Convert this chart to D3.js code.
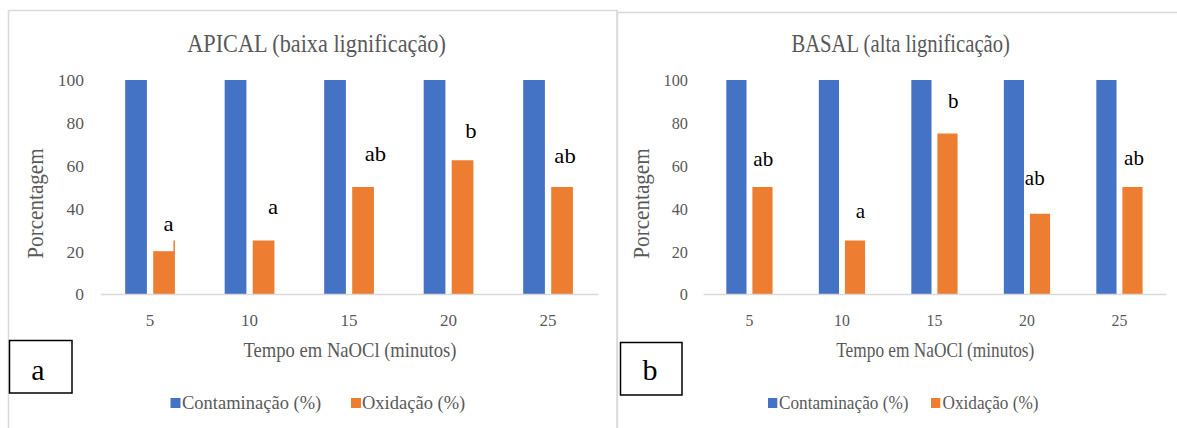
<!DOCTYPE html>
<html>
<head>
<meta charset="utf-8">
<script src="https://cdn.jsdelivr.net/npm/d3@7/dist/d3.min.js"></script>
<style>
  html, body { margin: 0; padding: 0; background: #ffffff; }
  svg { display: block; }
</style>
</head>
<body>
<svg id="chart" width="1177" height="428"></svg>
<script>
// ---------------- data ----------------
const categories = ["5", "10", "15", "20", "25"];
const seriesNames = ["Contaminação (%)", "Oxidação (%)"];
const yTicks = [0, 20, 40, 60, 80, 100];

const contaminacaoApical = [100, 100, 100, 100, 100];
const oxidacaoApical = [20, 25, 50, 62.5, 50];
const letrasApical = ["a", "a", "ab", "b", "ab"];

const contaminacaoBasal = [100, 100, 100, 100, 100];
const oxidacaoBasal = [50, 25, 75, 37.5, 50];
const letrasBasal = ["ab", "a", "b", "ab", "ab"];

// small stray edge visible at the first APICAL oxidation bar (reaches 25 %)
const apicalStrayEdge = 25;

const titles = ["APICAL (baixa lignificação)", "BASAL (alta lignificação)"];
const yTitle = "Porcentagem";
const xTitle = "Tempo em NaOCl (minutos)";
const panelTags = ["a", "b"];

// ---------------- layout / style ----------------
const FONT = '"Liberation Serif", "Times New Roman", serif';
const COLORS = ["#4472C4", "#ED7D31"];
const GRAY_TEXT = "#595959";
const GRID = "#D9D9D9";

const panels = [
  {
    title: titles[0], contam: contaminacaoApical, oxid: oxidacaoApical, letters: letrasApical, tag: panelTags[0],
    k: 1,
    frame: { x: 8.5, y: 10.5, w: 608.5, h: 440 },
    xRange: [100.3, 597.8],
    yAxisX: 84,
    titleX: 316.5,
    yTitleX: 35,
    xTitleX: 350,
    legend: [{ sq: 170.5, tx: 182 }, { sq: 351, tx: 362 }],
    box: { x: 9.5, y: 340.5, w: 62.5, h: 52.5, cx: 38 },
    letterDx: [4.4, 9.4, 12.4, 8.4, 3],
    letterLevel: [29.6, 37.2, 62.3, 73, 61.3],
    stray: true
  },
  {
    title: titles[1], contam: contaminacaoBasal, oxid: oxidacaoBasal, letters: letrasBasal, tag: panelTags[1],
    k: 0.93,
    frame: { x: 617.5, y: 12.5, w: 600, h: 440 },
    xRange: [703.2, 1165.7],
    yAxisX: 688,
    titleX: 900.7,
    yTitleX: 641,
    xTitleX: 935.3,
    legend: [{ sq: 768, tx: 779 }, { sq: 931, tx: 942.5 }],
    box: { x: 620.5, y: 342.5, w: 61.5, h: 52.5, cx: 650 },
    letterDx: [0.8, 5.4, 5.8, -5.2, 1.5],
    letterLevel: [59.8, 35.4, 86.8, 50.9, 60.3],
    stray: false
  }
];

const Y_TOP = 80, Y_BOTTOM = 294;

const svg = d3.select("#chart");

function addText(g, o) {
  const t = g.append("text")
    .attr("transform", `translate(${o.x},${o.y})` + (o.rotate ? ` rotate(${o.rotate})` : "") + ` scale(${o.sx || 1},1)`)
    .attr("text-anchor", o.anchor || "middle")
    .attr("font-size", o.fs)
    .attr("fill", o.fill || GRAY_TEXT)
    .style("font-family", FONT)
    .text(o.text);
  if (o.dy) t.attr("dy", o.dy);
  return t;
}

panels.forEach(p => {
  const g = svg.append("g");

  // frame
  g.append("rect")
    .attr("x", p.frame.x).attr("y", p.frame.y)
    .attr("width", p.frame.w).attr("height", p.frame.h)
    .attr("fill", "none").attr("stroke", GRID).attr("stroke-width", 1.5);

  const x = d3.scaleBand().domain(categories).range(p.xRange).paddingInner(0.5).paddingOuter(0.25);
  const xInner = d3.scaleBand().domain([0, 1]).range([0, x.bandwidth()]).paddingInner(0.225).paddingOuter(0);
  const y = d3.scaleLinear().domain([0, 100]).range([Y_BOTTOM, Y_TOP]);

  // title
  addText(g, { x: p.titleX, y: 52, text: p.title, fs: 25, sx: 0.89 * p.k });

  // y axis
  const yAxis = g.append("g")
    .attr("transform", `translate(${p.yAxisX},0)`)
    .call(d3.axisLeft(y).tickValues(yTicks).tickSize(0).tickPadding(0).tickFormat(d3.format("d")));
  yAxis.select(".domain").remove();
  yAxis.selectAll("text")
    .attr("font-size", 17.5)
    .attr("fill", GRAY_TEXT)
    .style("font-family", FONT)
    .attr("dy", "0.34em")
    .attr("transform", `scale(${p.k},1)`);

  // bars
  const data = categories.map((c, i) => ({ c, vals: [p.contam[i], p.oxid[i]], letter: p.letters[i], i }));
  const groups = g.append("g").selectAll("g").data(data).join("g")
    .attr("transform", d => `translate(${x(d.c)},0)`);
  groups.selectAll("rect").data(d => d.vals.map((v, s) => ({ v, s }))).join("rect")
    .attr("x", d => xInner(d.s))
    .attr("width", xInner.bandwidth())
    .attr("y", d => y(d.v))
    .attr("height", d => y(0) - y(d.v))
    .attr("fill", d => COLORS[d.s]);

  if (p.stray) {
    g.append("rect")
      .attr("x", x(categories[0]) + xInner(1) + xInner.bandwidth() - 1.5)
      .attr("width", 1.5)
      .attr("y", y(apicalStrayEdge))
      .attr("height", y(p.oxid[0]) - y(apicalStrayEdge))
      .attr("fill", COLORS[1]);
  }

  // x axis
  const xAxis = g.append("g")
    .attr("transform", `translate(0,${Y_BOTTOM})`)
    .call(d3.axisBottom(x).tickSize(0).tickSizeOuter(0).tickPadding(20));
  xAxis.select(".domain").attr("stroke", GRID).attr("stroke-width", 1.5);
  xAxis.selectAll("text")
    .attr("font-size", 17)
    .attr("fill", GRAY_TEXT)
    .style("font-family", FONT)
    .attr("transform", `scale(${p.k},1)`);

  // letters
  g.append("g").selectAll("text").data(data).join("text")
    .attr("transform", d => `translate(${x(d.c) + xInner(1) + xInner.bandwidth() / 2 + p.letterDx[d.i]},${y(p.letterLevel[d.i])}) scale(${1.08 * p.k},1)`)
    .attr("text-anchor", "middle")
    .attr("font-size", 21)
    .attr("fill", "#000")
    .style("font-family", FONT)
    .text(d => d.letter);

  // axis titles
  addText(g, { x: p.yTitleX, y: 203.5, rotate: -90, text: yTitle, fs: 23, sx: 0.92, dy: "0.35em" });
  addText(g, { x: p.xTitleX, y: 357, text: xTitle, fs: 20, sx: 0.93 * p.k });

  // legend
  seriesNames.forEach((name, s) => {
    g.append("rect")
      .attr("x", p.legend[s].sq).attr("y", 398)
      .attr("width", 10 * p.k).attr("height", 10)
      .attr("fill", COLORS[s]);
    addText(g, { x: p.legend[s].tx, y: 409, text: name, fs: 19.5, sx: 0.95 * p.k, anchor: "start" });
  });

  // panel tag box
  g.append("rect")
    .attr("x", p.box.x).attr("y", p.box.y)
    .attr("width", p.box.w).attr("height", p.box.h)
    .attr("fill", "#fff").attr("stroke", "#000").attr("stroke-width", 1.5);
  addText(g, { x: p.box.cx, y: 380, text: p.tag, fs: 30, fill: "#000" });
});
</script>
</body>
</html>
